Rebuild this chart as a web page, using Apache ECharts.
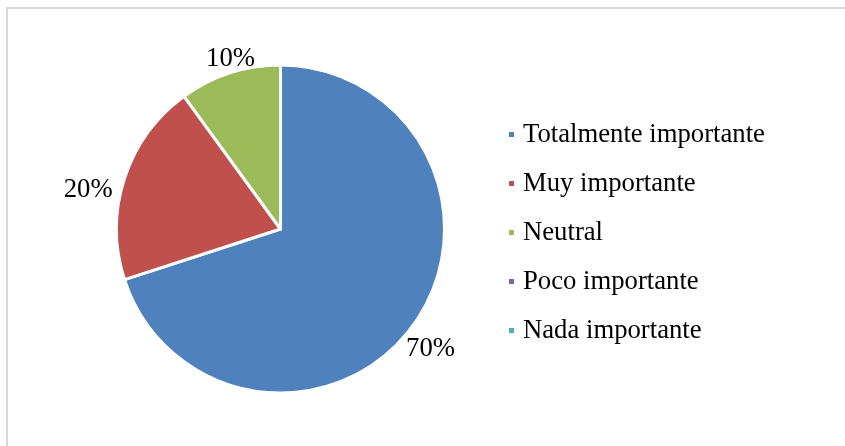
<!DOCTYPE html>
<html><head><meta charset="utf-8">
<script src="https://cdn.jsdelivr.net/npm/echarts@6/dist/echarts.min.js"></script>
<style>html,body{margin:0;padding:0;background:#fff}#c{width:845px;height:446px}</style>
</head><body><div id="c"></div>
<script>
const categories = ['Totalmente importante','Muy importante','Neutral','Poco importante','Nada importante'];
const values = [70, 20, 10, 0, 0];
const colors = ['#4F81BD','#C0504D','#9BBB59','#8064A2','#4BACC6'];
const FONT = '"Liberation Serif","Times New Roman",serif';
const labelNudge = [[1,15],[-18,16],[10,-1],[0,0],[0,0]];
const chart = echarts.init(document.getElementById('c'));
chart.setOption({
  animation: false,
  color: colors,
  graphic: [{type:'rect', shape:{x:7,y:8,width:900,height:500}, style:{fill:'none', stroke:'#d9d9d9', lineWidth:2}, silent:true}],
  legend: {
    orient: 'vertical', left: 502, top: 116,
    itemWidth: 7, itemHeight: 7, itemGap: 22,
    icon: 'rect',
    data: categories,
    textStyle: {fontFamily: FONT, fontSize: 26.7, color: '#000', padding:[0,0,0,3]}
  },
  series: [{
    type: 'pie',
    center: [280.5, 229], radius: 164,
    startAngle: 90, clockwise: true,
    itemStyle: {borderColor:'#fff', borderWidth: 3},
    label: {show:true, position:'outside', formatter:'{d}%', fontFamily: FONT, fontSize: 26.7, color:'#000'},
    labelLine: {show:false, length: 14, length2: 0},
    labelLayout: function (p) { const n = labelNudge[p.dataIndex]; return {align:'center', dx:n[0], dy:n[1]}; },
    data: categories.map((n,i)=>({name:n, value:values[i], label:{show: values[i]>0}}))
  }]
});
</script></body></html>
